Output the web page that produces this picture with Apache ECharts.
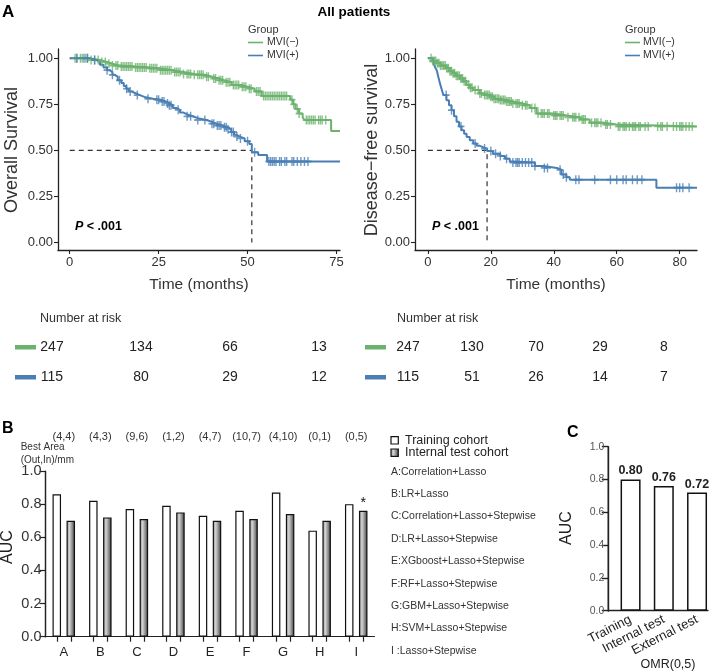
<!DOCTYPE html>
<html><head><meta charset="utf-8">
<script src="https://cdn.jsdelivr.net/npm/echarts@6/dist/echarts.min.js"></script>
<style>html,body{margin:0;padding:0;background:#fff}#c{width:720px;height:671px}</style>
</head><body><div id="c"></div>
<script>
// ---------------- DATA ----------------
const groupNames = ['MVI(\u2212)', 'MVI(+)'];
const osNeg = [[0,1],[5.5,0.99],[8.5,0.98],[10.5,0.97],[12,0.96],[14,0.955],[18,0.95],[22,0.945],[25,0.935],[29,0.925],[32,0.915],[35,0.91],[38,0.90],[40,0.89],[42,0.88],[43.5,0.87],[45.5,0.855],[48,0.845],[50,0.835],[52,0.82],[54,0.795],[62,0.775],[62.8,0.75],[63.5,0.725],[64.5,0.70],[65.5,0.68],[66,0.665],[73.5,0.605],[76,0.605]];
const osPos = [[0,1],[5.5,0.99],[7.5,0.98],[8.5,0.965],[9.5,0.95],[10.5,0.935],[11.2,0.925],[12,0.91],[12.6,0.90],[13.5,0.88],[14.5,0.865],[15.2,0.85],[15.9,0.835],[16.6,0.82],[17.3,0.81],[18.5,0.80],[19.7,0.79],[21,0.78],[23.4,0.775],[25.3,0.765],[27,0.755],[28,0.745],[29,0.73],[30,0.72],[31,0.705],[32,0.695],[33,0.685],[34.6,0.675],[36,0.665],[38.4,0.655],[40,0.645],[41.2,0.635],[43,0.625],[44.5,0.615],[45.4,0.60],[46.2,0.585],[46.8,0.575],[47.8,0.565],[49.2,0.55],[50.5,0.535],[51.2,0.49],[53,0.475],[55.5,0.44],[76,0.44]];
const osNegCensor = [1.5,2,3,3.5,4.5,5,6,7,8,9,10,11,12,13,13.5,14.5,15,15.5,16,16.5,17,17.5,18.5,19,19.5,20,20.5,21,21.5,22.5,23,23.5,24,24.5,25.5,26,26.5,27,27.5,28,28.5,29.5,30,30.5,31,32,33,33.5,34,35,36,36.5,37,37.5,38.5,39,40.5,41,42,42.5,43,44,44.5,45,46,46.5,47,47.5,48.5,49,49.5,50.5,51,52.5,53,53.5,54.5,55,55.5,56,56.5,57,57.5,58,58.5,59,59.5,60,60.5,61,62.5,63,64,64.5,66.5,67,67.5,68,68.5,69,70,70.5,71,72];
const osPosCensor = [2,4,5,7,10.5,12,14,16,17,19,22,24.5,25,26,26.5,27.5,28,28.5,30.5,33,34,36,38,40,40.5,41.5,42,42.5,43.5,44,44.5,45.5,46,47,48,50,52,56,56.5,57,57.5,58,59,59.5,60.5,61,62.5,63,64,65,66,67];
const osMedian = 51.2;
const dfsNeg = [[0,1],[1.5,0.985],[2.8,0.973],[4,0.96],[5.9,0.946],[7,0.93],[8,0.918],[9,0.905],[10.2,0.89],[11.2,0.875],[12.3,0.855],[13.3,0.84],[14.4,0.827],[16.5,0.809],[18,0.80],[19.6,0.791],[21,0.78],[22.8,0.773],[25,0.765],[27,0.755],[30,0.745],[32.4,0.73],[34.5,0.70],[39.8,0.69],[44,0.68],[48.3,0.668],[51.4,0.65],[56,0.64],[59.9,0.63],[85.5,0.63]];
const dfsPos = [[0,1],[1.7,0.98],[2.3,0.95],[2.8,0.935],[3.3,0.90],[3.8,0.865],[4.4,0.83],[4.9,0.80],[5.9,0.772],[6.7,0.745],[7.5,0.718],[8.3,0.685],[9.1,0.655],[9.9,0.63],[10.7,0.61],[11.5,0.59],[12.3,0.573],[13.3,0.555],[14.4,0.537],[15.5,0.525],[16.5,0.518],[17.5,0.51],[18.8,0.497],[20.7,0.482],[23,0.47],[24.5,0.455],[26,0.44],[27,0.434],[34,0.415],[36.6,0.405],[41,0.395],[42.4,0.37],[44,0.355],[45.1,0.341],[72.6,0.298],[85.5,0.298]];
const dfsNegCensor = [1,1.5,2,2.5,3,3.5,4,4.5,5,5.5,6,6.5,7,7.5,8,8.5,9,9.5,10,10.5,11,11.5,12,13,13.5,14,15,16,16.5,17,18,18.5,19,19.5,20,20.5,21,21.5,22,22.5,23,23.5,24,24.5,25,25.5,26,26.5,27,28,28.5,29,30,31,31.5,33,34,35,36,36.5,37,38,38.5,40,40.5,41,42,42.5,43,44.5,46,46.5,47,48,49,49.5,50,52,53,53.5,54,55,56.5,57,58,60.5,61,62,62.5,63,64,65,65.5,66,67,67.5,69,70,73,74,74.5,76,78,79,80,80.5,81,82,83,84];
const dfsPosCensor = [5.8,7.5,10.5,15,18,20,21.5,23,25,27,28,28.5,29,30,31,32,33,34,37,38,42,43,44,47,48,53,58,60,62,63,65,66.5,68,79,80,81,83];
const dfsMedian = 18.8;
const osTicks = [0,25,50,75];
const dfsTicks = [0,20,40,60,80];
const survTicks = [0,0.25,0.5,0.75,1];
const osRiskNeg = [247,134,66,13];
const osRiskPos = [115,80,29,12];
const dfsRiskNeg = [247,130,70,29,8];
const dfsRiskPos = [115,51,26,14,7];
const methodLetters = ['A','B','C','D','E','F','G','H','I'];
const methodNames = ['A:Correlation+Lasso','B:LR+Lasso','C:Correlation+Lasso+Stepwise','D:LR+Lasso+Stepwise','E:XGboost+Lasso+Stepwise','F:RF+Lasso+Stepwise','G:GBM+Lasso+Stepwise','H:SVM+Lasso+Stepwise','I :Lasso+Stepwise'];
const bestArea = ['(4,4)','(4,3)','(9,6)','(1,2)','(4,7)','(10,7)','(4,10)','(0,1)','(0,5)'];
const aucTrain = [0.86,0.82,0.77,0.79,0.73,0.76,0.87,0.64,0.80];
const aucTest  = [0.70,0.72,0.71,0.75,0.70,0.71,0.74,0.70,0.76];
const sigMark  = ['','','','','','','','','*'];
const cohortNames = ['Training cohort','Internal test cohort'];
const omrCohorts = ['Training','Internal test','External test'];
const omrAuc = [0.80,0.76,0.72];

// ---------------- STYLE ----------------
const FF = '"Liberation Sans", Arial, Helvetica, sans-serif';
const GREEN = '#6CB26E', BLUE = '#4A7FB4';
const AX = '#222';
const plusPath = 'path://M4,0H6V4H10V6H6V10H4V6H0V4H4Z';
const testGrad = new echarts.graphic.LinearGradient(0,0,1,0,[
  {offset:0,color:'#8c8c8c'},{offset:0.35,color:'#d4d4d4'},{offset:0.75,color:'#7a7a7a'},{offset:1,color:'#2b2b2b'}]);

function survAt(curve, t){ let s = curve[0][1]; for (const p of curve){ if (p[0] <= t) s = p[1]; else break; } return s; }
function censorPts(curve, times){ return times.map(t => [t, survAt(curve, t)]); }

const kmGrids = [
  {left:58, top:49, width:282, height:201},
  {left:415, top:49, width:282, height:201}
];
function kmX(idx, min, max, ticks){
  return {type:'value', gridIndex:idx, min, max, position:'bottom',
    axisLine:{show:true, onZero:false, lineStyle:{color:AX, width:1.3}},
    axisTick:{show:true, length:4, customValues:ticks, lineStyle:{color:AX, width:1.1}},
    axisLabel:{customValues:ticks, margin:6, color:'#333', fontSize:13, fontFamily:FF},
    splitLine:{show:false}};
}
function kmY(idx){
  return {type:'value', gridIndex:idx, min:-0.04, max:1.05, position:'left',
    axisLine:{show:true, onZero:false, lineStyle:{color:AX, width:1.3}},
    axisTick:{show:true, length:4, customValues:survTicks, lineStyle:{color:AX, width:1.1}},
    axisLabel:{customValues:survTicks, margin:5, color:'#333', fontSize:13, fontFamily:FF, formatter:v=>v.toFixed(2)},
    splitLine:{show:false}};
}
function stepSeries(data, color, gi){
  return {type:'line', xAxisIndex:gi, yAxisIndex:gi, data, step:'end', symbol:'none', showSymbol:false,
    lineStyle:{color, width:2}, z:3, silent:true};
}
function censorSeries(curve, times, color, gi){
  return {type:'scatter', xAxisIndex:gi, yAxisIndex:gi, data:censorPts(curve, times), symbol:plusPath,
    symbolSize:[7,9], itemStyle:{color}, z:4, silent:true};
}
function medianSeries(m, gi){
  return {type:'line', xAxisIndex:gi, yAxisIndex:gi, data:[[0,0.5],[m,0.5],[m,0]], symbol:'none',
    lineStyle:{color:'#333', width:1.2, type:[5,4]}, z:2, silent:true};
}

const bGrid = {left:45.5, top:471, width:329, height:165.7};
const bBarW = 8.5, bGapPx = 5.5;
const bBand = bGrid.width / methodLetters.length;
const bOff = (bBarW + bGapPx) / 2 / bBand;
const bTickVals = [];
methodLetters.forEach((_, i) => { bTickVals.push(i - bOff, i + bOff); });
const cGrid = {left:608.3, top:446.7, width:99.7, height:164};

// ---------------- GRAPHIC TEXT ----------------
const g = [];
function txt(text, x, y, font, opt){
  opt = opt || {};
  g.push({type:'text', x, y, rotation:opt.rotation||0, silent:true, z:10,
    style:{text, font, fill:opt.fill||'#222', textAlign:opt.align||'left', textVerticalAlign:'middle', rich:opt.rich}});
}
function rect(x, y, w, h, fill, stroke, lw){
  g.push({type:'rect', shape:{x, y, width:w, height:h}, silent:true, z:10,
    style:{fill, stroke:stroke||null, lineWidth:lw||0}});
}
function hline(x1, x2, y, color, w){
  g.push({type:'line', shape:{x1, y1:y, x2, y2:y}, silent:true, z:10, style:{stroke:color, lineWidth:w}});
}
function vrect(x, y1, y2, color, w){
  g.push({type:'rect', shape:{x:x - w / 2, y:y1, width:w, height:y2 - y1}, silent:true, z:10, style:{fill:color}});
}
txt('A', 2, 12, 'bold 17px ' + FF, {fill:'#000'});
txt('All patients', 354, 12, 'bold 13.5px ' + FF, {align:'center', fill:'#000'});
txt('Overall Survival', 12, 150, '18px ' + FF, {rotation:Math.PI/2, align:'center', fill:'#333'});
txt('Disease\u2212free survival', 372, 150, '18px ' + FF, {rotation:Math.PI/2, align:'center', fill:'#333'});
txt('Time (months)', 199, 285, '15.5px ' + FF, {align:'center', fill:'#333'});
txt('Time (months)', 556, 285, '15.5px ' + FF, {align:'center', fill:'#333'});
[[248, 267],[625, 643]].forEach(([lx, tx]) => {
  txt('Group', lx, 30, '11px ' + FF, {fill:'#333'});
  hline(lx, lx + 15, 42.5, GREEN, 1.6);
  hline(lx, lx + 15, 55.5, BLUE, 1.6);
  txt(groupNames[0], tx, 42.5, '10.5px ' + FF, {fill:'#333'});
  txt(groupNames[1], tx, 55.5, '10.5px ' + FF, {fill:'#333'});
});
const pRich = {i:{fontStyle:'italic', fontWeight:'bold', fontSize:12.5, fontFamily:FF, fill:'#000'}, b:{fontWeight:'bold', fontSize:12.5, fontFamily:FF, fill:'#000'}};
txt('{i|P}{b| < .001}', 75, 227, 'bold 12.5px ' + FF, {rich:pRich});
txt('{i|P}{b| < .001}', 432, 227, 'bold 12.5px ' + FF, {rich:pRich});
function riskTable(nx, barX, colX0, colStep, neg, pos){
  txt('Number at risk', nx, 319, '12.5px ' + FF, {fill:'#333'});
  rect(barX, 345, 21, 4.5, GREEN);
  rect(barX, 375, 21, 4.5, BLUE);
  neg.forEach((v, i) => txt(String(v), colX0 + i * colStep, 347.3, '14px ' + FF, {align:'center', fill:'#222'}));
  pos.forEach((v, i) => txt(String(v), colX0 + i * colStep, 377.3, '14px ' + FF, {align:'center', fill:'#222'}));
}
riskTable(40, 15, 52, 89, osRiskNeg, osRiskPos);
riskTable(397, 365, 408, 64, dfsRiskNeg, dfsRiskPos);
txt('B', 2, 429, 'bold 16px ' + FF, {fill:'#000'});
txt('Best Area', 20.7, 447, '10px ' + FF, {fill:'#333'});
txt('(Out,In)/mm', 20.7, 460, '10px ' + FF, {fill:'#333'});
txt('AUC', 8, 547, '16px ' + FF, {rotation:Math.PI/2, align:'center', fill:'#222'});
rect(391, 436.7, 7.3, 7.3, '#fff', '#111', 1.2);
rect(391, 449, 7.3, 7.3, testGrad, '#111', 1.2);
txt(cohortNames[0], 405, 440.5, '12.5px ' + FF, {fill:'#222'});
txt(cohortNames[1], 405, 453, '12.5px ' + FF, {fill:'#222'});
methodNames.forEach((m, i) => txt(m, 391, 471.7 + i * 22.4, '10.5px ' + FF, {fill:'#333'}));
// y-axis lines for panels B and C, along each grid's left edge
vrect(bGrid.left, bGrid.top, bGrid.top + bGrid.height + 0.6, AX, 1.3);
vrect(cGrid.left, cGrid.top, cGrid.top + cGrid.height + 0.7, AX, 1.4);
txt('C', 567, 433, 'bold 16px ' + FF, {fill:'#000'});
txt('AUC', 567, 528, '16px ' + FF, {rotation:Math.PI/2, align:'center', fill:'#222'});
txt('OMR(0,5)', 668, 665, '12.5px ' + FF, {align:'center', fill:'#222'});

const option = {
  animation:false,
  backgroundColor:'#fff',
  grid:[
    Object.assign({containLabel:false, outerBoundsMode:'none'}, kmGrids[0]),
    Object.assign({containLabel:false, outerBoundsMode:'none'}, kmGrids[1]),
    Object.assign({containLabel:false, outerBoundsMode:'none'}, bGrid),
    Object.assign({containLabel:false, outerBoundsMode:'none'}, cGrid)
  ],
  xAxis:[
    kmX(0, -3.3, 76, osTicks),
    kmX(1, -4.1, 85.5, dfsTicks),
    {type:'category', gridIndex:2, data:methodLetters, boundaryGap:true, position:'bottom', offset:0,
      axisLine:{show:true, onZero:false, lineStyle:{color:AX, width:1.2}}, axisTick:{show:false},
      axisLabel:{interval:0, margin:9, color:'#222', fontSize:13, fontFamily:FF}},
    {type:'value', gridIndex:2, min:-0.5, max:methodLetters.length - 0.5, position:'bottom', offset:0,
      axisLine:{show:false, onZero:false}, axisTick:{show:true, length:5, customValues:bTickVals, lineStyle:{color:AX, width:1.2}},
      axisLabel:{show:false}, splitLine:{show:false}},
    {type:'category', gridIndex:2, data:bestArea, position:'top', offset:0, boundaryGap:true,
      axisLine:{show:false, onZero:false}, axisTick:{show:false},
      axisLabel:{interval:0, margin:29, color:'#333', fontSize:11, fontFamily:FF}},
    {type:'value', gridIndex:3, min:-0.67, max:2.33, position:'bottom',
      axisLine:{show:true, onZero:false, lineStyle:{color:AX, width:1.4}}, axisTick:{show:false},
      axisLabel:{customValues:[0,1,2], rotate:27, margin:8, color:'#222', fontSize:13, fontFamily:FF,
        formatter:v => omrCohorts[Math.round(v)]}, splitLine:{show:false}}
  ],
  yAxis:[
    kmY(0), kmY(1),
    {type:'value', gridIndex:2, min:0, max:1, interval:0.2, position:'left', z:5,
      axisLine:{show:true, onZero:false, lineStyle:{color:AX, width:1.2}},
      axisTick:{show:true, length:6, lineStyle:{color:AX, width:1.2}},
      axisLabel:{margin:4, color:'#333', fontSize:14.5, fontFamily:FF, formatter:v => v.toFixed(1)}, splitLine:{show:false}},
    {type:'value', gridIndex:3, min:0, max:1, interval:0.2, position:'left', z:5,
      axisLine:{show:true, onZero:false, lineStyle:{color:AX, width:1.4}},
      axisTick:{show:true, length:6.5, lineStyle:{color:AX, width:1.4}},
      axisLabel:{margin:4, color:'#555', fontSize:10.5, fontFamily:FF, formatter:v => v.toFixed(1)}, splitLine:{show:false}}
  ],
  series:[
    medianSeries(osMedian, 0),
    stepSeries(osNeg, GREEN, 0), stepSeries(osPos, BLUE, 0),
    censorSeries(osNeg, osNegCensor, GREEN, 0), censorSeries(osPos, osPosCensor, BLUE, 0),
    medianSeries(dfsMedian, 1),
    stepSeries(dfsNeg, GREEN, 1), stepSeries(dfsPos, BLUE, 1),
    censorSeries(dfsNeg, dfsNegCensor, GREEN, 1), censorSeries(dfsPos, dfsPosCensor, BLUE, 1),
    {type:'bar', name:cohortNames[0], xAxisIndex:2, yAxisIndex:2, data:aucTrain, barWidth:bBarW, barGap:(bGapPx / bBarW * 100) + '%',
      itemStyle:{color:'#fff', borderColor:'#111', borderWidth:1.2}, silent:true},
    {type:'bar', name:cohortNames[1], xAxisIndex:2, yAxisIndex:2, barWidth:bBarW,
      data:aucTest.map((v, i) => ({value:v, label:{show:sigMark[i] !== '', formatter:sigMark[i]}})),
      label:{position:'top', distance:1, color:'#111', fontSize:14, fontFamily:FF},
      itemStyle:{color:testGrad, borderColor:'#111', borderWidth:1.2}, silent:true},
    {type:'bar', xAxisIndex:5, yAxisIndex:3, data:omrAuc.map((v, i) => [i, v]), barWidth:20,
      itemStyle:{color:'#fff', borderColor:'#111', borderWidth:1.5},
      label:{show:true, position:'top', distance:2, color:'#222', fontWeight:'bold', fontSize:12.5, fontFamily:FF,
        formatter:p => p.value[1].toFixed(2)}, silent:true}
  ],
  graphic:g
};
echarts.init(document.getElementById('c'), null, {renderer:'canvas'}).setOption(option);
</script></body></html>
